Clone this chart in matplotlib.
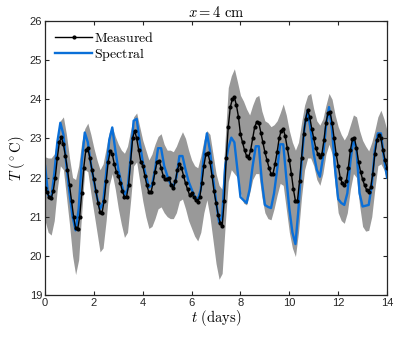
import numpy as np
import matplotlib
matplotlib.use("Agg")
import matplotlib.pyplot as plt

plt.rcParams['mathtext.fontset'] = 'cm'
plt.rcParams['font.family'] = ['Liberation Sans', 'DejaVu Sans']

# measured samples every 2 hours (days)
t_meas = np.arange(169) / 12.0
measured = [
    21.73, 21.62, 21.50, 21.47, 21.65, 22.00, 22.50, 22.90, 23.03, 22.85, 22.55, 22.20,
    21.80, 21.40, 21.00, 20.70, 20.68, 21.00, 21.60, 22.25, 22.70, 22.75, 22.50, 22.20,
    21.95, 21.65, 21.35, 21.12, 21.10, 21.40, 21.90, 22.40, 22.68, 22.60, 22.35, 22.15,
    22.05, 21.85, 21.65, 21.50, 21.50, 21.80, 22.40, 23.00, 23.20, 23.00, 22.70, 22.40,
    22.30, 22.05, 21.80, 21.62, 21.62, 21.85, 22.15, 22.40, 22.43, 22.25, 22.05, 21.95,
    21.95, 21.98, 21.80, 21.73, 21.90, 22.20, 22.35, 22.25, 22.05, 21.85, 21.70, 21.55,
    21.60, 21.50, 21.42, 21.38, 21.50, 21.85, 22.30, 22.60, 22.62, 22.40, 22.05, 21.65,
    21.35, 21.05, 20.85, 20.75, 21.40, 22.50, 23.30, 23.80, 24.00, 24.05, 23.85, 23.55,
    23.10, 22.90, 22.70, 22.55, 22.50, 22.70, 23.00, 23.30, 23.42, 23.40, 23.15, 22.90,
    22.65, 22.45, 22.25, 22.10, 22.10, 22.35, 22.65, 23.00, 23.20, 23.25, 23.05, 22.75,
    22.45, 22.10, 21.70, 21.40, 21.40, 21.90, 22.50, 23.10, 23.50, 23.72, 23.55, 23.25,
    23.00, 22.75, 22.60, 22.53, 22.60, 22.95, 23.40, 23.65, 23.68, 23.40, 23.00, 22.60,
    22.30, 22.00, 21.85, 21.81, 21.90, 22.25, 22.70, 22.98, 23.00, 22.75, 22.40, 22.15,
    21.95, 21.80, 21.68, 21.64, 21.75, 22.10, 22.60, 22.95, 23.08, 23.00, 22.70, 22.45,
    22.24,
]

# spectral model and spread band, every 3 hours (days)
t = np.arange(113) / 8.0
spectral = [
    22.30, 21.55, 21.45, 22.10, 22.90, 23.40, 23.10, 22.30,
    21.60, 21.00, 20.65, 21.20, 22.40, 23.15, 22.90, 22.35,
    21.90, 21.50, 21.20, 21.35, 22.10, 22.95, 23.28, 22.70,
    22.20, 21.85, 21.55, 21.70, 22.50, 23.45, 23.50, 22.90,
    22.40, 22.05, 21.75, 21.80, 22.20, 22.75, 22.75, 22.30,
    22.05, 21.85, 21.75, 22.00, 22.55, 22.55, 22.20, 21.90,
    21.70, 21.50, 21.43, 21.70, 22.60, 23.13, 22.70, 22.00,
    21.40, 20.85, 21.00, 22.30, 22.75, 23.02, 22.90, 22.20,
    21.50, 21.42, 21.35, 21.70, 22.30, 22.80, 22.80, 21.90,
    21.30, 21.25, 21.22, 21.60, 22.20, 22.85, 22.85, 22.00,
    21.20, 20.60, 20.30, 21.20, 22.40, 23.30, 23.72, 23.20,
    22.60, 22.20, 22.02, 22.50, 23.30, 23.80, 23.20, 22.20,
    21.45, 21.35, 21.30, 21.60, 22.40, 23.00, 22.70, 21.60,
    21.26, 21.28, 21.30, 21.80, 22.70, 23.13, 23.13, 22.50,
    22.00,
]

band_upper = [
    22.53, 22.50, 22.50, 22.60, 23.00, 23.45, 23.55, 23.10,
    22.50, 22.00, 21.95, 22.30, 22.90, 23.25, 23.39, 23.10,
    22.75, 22.45, 22.20, 22.35, 22.75, 23.15, 23.30, 23.05,
    22.85, 22.70, 22.62, 22.80, 23.20, 23.55, 23.65, 23.30,
    22.95, 22.70, 22.45, 22.60, 22.85, 23.05, 23.12, 22.85,
    22.70, 22.70, 22.66, 22.80, 23.00, 23.17, 23.00, 22.70,
    22.45, 22.30, 22.25, 22.55, 22.95, 23.20, 23.10, 22.60,
    22.10, 21.80, 21.70, 23.00, 24.30, 24.60, 24.78, 24.45,
    24.10, 23.95, 23.75, 23.60, 23.85, 24.05, 24.10, 23.70,
    23.45, 23.40, 23.30, 23.35, 23.45, 23.65, 23.88, 23.60,
    23.20, 22.90, 22.70, 22.90, 23.40, 23.85, 24.10, 24.15,
    23.75, 23.45, 23.34, 23.50, 23.85, 24.15, 24.00, 23.60,
    23.30, 23.10, 22.96, 23.10, 23.35, 23.60, 23.55, 23.20,
    22.95, 22.80, 22.68, 22.90, 23.20, 23.55, 23.72, 23.50,
    23.20,
]

band_lower = [
    20.90, 20.60, 20.53, 20.90, 21.70, 22.30, 22.20, 21.50,
    20.80, 20.00, 19.52, 19.90, 21.10, 22.20, 22.15, 21.60,
    21.10, 20.60, 20.10, 20.20, 20.90, 21.80, 22.10, 21.70,
    21.20, 20.80, 20.47, 20.60, 21.40, 22.30, 22.40, 21.90,
    21.40, 21.00, 20.70, 20.75, 20.95, 21.20, 21.25, 21.10,
    21.00, 20.95, 20.95, 21.10, 21.40, 21.45, 21.20, 20.90,
    20.70, 20.50, 20.38, 20.60, 21.10, 21.43, 21.00, 20.40,
    19.80, 19.40, 19.55, 20.80, 21.90, 22.20, 22.10, 22.00,
    21.60, 21.35, 21.30, 21.60, 21.95, 22.10, 22.10, 21.50,
    21.10, 20.95, 20.92, 21.20, 21.55, 21.85, 21.80, 21.20,
    20.60, 20.20, 19.98, 20.60, 21.50, 22.20, 22.50, 22.50,
    22.30, 21.95, 21.80, 22.10, 22.60, 22.85, 22.60, 21.80,
    21.10, 20.90, 20.83, 21.10, 21.70, 22.10, 22.00, 21.30,
    20.75, 20.63, 20.65, 21.00, 21.70, 22.30, 22.35, 22.20,
    21.94,
]

xticks = [0, 2, 4, 6, 8, 10, 12, 14]
yticks = [19, 20, 21, 22, 23, 24, 25, 26]

fig = plt.figure(figsize=(3.99, 3.39), dpi=100)
ax = fig.add_axes([0.113, 0.130, 0.857, 0.808])

ax.fill_between(t, band_lower, band_upper, color='#999999', lw=0, zorder=1)
ax.plot(t_meas, measured, color='black', lw=1.0, marker='o', ms=2.0,
        label=r'$\mathrm{Measured}$', zorder=3)
ax.plot(t, spectral, color='#0a6fd8', lw=1.7, label=r'$\mathrm{Spectral}$', zorder=2)

ax.set_xlim(0, 14)
ax.set_ylim(19, 26)
ax.set_xticks(xticks)
ax.set_yticks(yticks)
ax.tick_params(direction='in', top=True, right=True, length=3, width=0.8,
               labelsize=8, colors='#262626', pad=2)
for s in ax.spines.values():
    s.set_color('#262626')
    s.set_linewidth(0.9)

ax.set_xlabel(r'$t\ \mathrm{(days)}$', fontsize=10.5, labelpad=0)
ax.set_ylabel(r'$T\ (^\circ\mathrm{C})$', fontsize=10.5, labelpad=2)
ax.set_title(r'$x = 4\ \mathrm{cm}$', fontsize=10.5, pad=3)

ax.legend(loc='upper left', frameon=False, fontsize=10, handlelength=2.7,
          handletextpad=0.1, borderaxespad=0.3, labelspacing=0.1)

fig.savefig('out.png', dpi=100)
